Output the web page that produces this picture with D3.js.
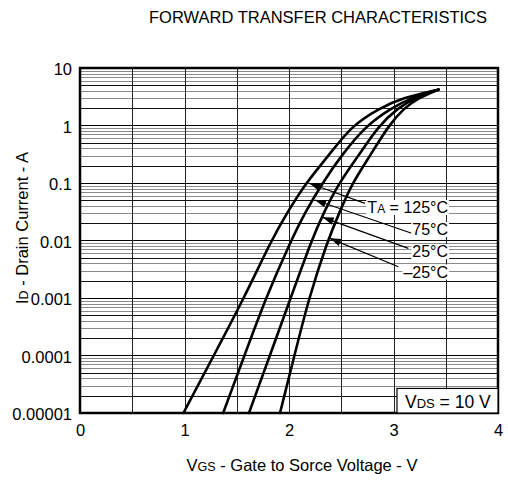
<!DOCTYPE html>
<html><head><meta charset="utf-8">
<script src="https://cdn.jsdelivr.net/npm/d3@7"></script>
<style>
body{margin:0;background:#fff;}
text{font-family:"Liberation Sans",Arial,sans-serif;fill:#000;}
</style></head>
<body><svg id="c" width="508" height="481"></svg>
<script>
// ---- data ----
const currentLevels = [1e-5, 1e-4, 1e-3, 0.01, 0.03, 0.1, 0.3, 1, 2, 3, 4.2];
const vgs125 = [0.99, 1.28, 1.57, 1.83, 1.98, 2.16, 2.38, 2.60, 2.87, 3.08, 3.43];
const vgs75  = [1.37, 1.574, 1.777, 2.02, 2.15, 2.32, 2.50, 2.737, 2.98, 3.16, 3.43];
const vgs25  = [1.617, 1.817, 2.016, 2.215, 2.33, 2.478, 2.665, 2.86, 3.04, 3.20, 3.43];
const vgsM25 = [1.914, 2.052, 2.19, 2.37, 2.48, 2.605, 2.777, 2.953, 3.10, 3.235, 3.43];
const seriesNames = ["125", "75", "25", "–25"];
const xTicks = [0, 1, 2, 3, 4];
const xTickLabels = ["0", "1", "2", "3", "4"];
const yTicks = [1e-5, 1e-4, 1e-3, 1e-2, 1e-1, 1, 10];
const yTickLabels = ["0.00001", "0.0001", "0.001", "0.01", "0.1", "1", "10"];
// annotation anchors in data space: arrow tip [V, A], leader end [V, A], label right/baseline [V, A]
const arrowTips = [[2.194, 0.0988], [2.249, 0.0506], [2.322, 0.0253], [2.392, 0.0109]];
const leaderEnds = [[2.727, 0.0443], [3.174, 0.01334], [3.142, 0.00731], [3.046, 0.0035]];
const labelPos = [[3.522, 0.0301], [3.522, 0.01247], [3.522, 0.00516], [3.522, 0.00227]];

const svg = d3.select("#c");
const L = 80, R = 498, T = 68, B = 413;
const x = d3.scaleLinear().domain([0, 4]).range([L, R]);
const y = d3.scaleLog().domain([1e-5, 10]).range([B, T]);

// title
svg.append("text").attr("x", 318).attr("y", 23).attr("text-anchor", "middle")
  .attr("font-size", 16.5).text("FORWARD TRANSFER CHARACTERISTICS");

// grid
const g = svg.append("g");
const minor = [];
for (let e = -5; e < 1; e++) for (let k = 2; k <= 9; k++) minor.push({v: k * Math.pow(10, e), k});
g.selectAll(".mn").data(minor).enter().append("line")
  .attr("x1", L).attr("x2", R)
  .attr("y1", d => Math.round(y(d.v)) + 0.5).attr("y2", d => Math.round(y(d.v)) + 0.5)
  .attr("stroke", d => (d.k === 2 || d.k === 5) ? "#111" : "#8a8a8a").attr("stroke-width", 1);
g.selectAll(".mj").data(yTicks).enter().append("line")
  .attr("x1", L).attr("x2", R)
  .attr("y1", d => Math.round(y(d)) + 0.5).attr("y2", d => Math.round(y(d)) + 0.5)
  .attr("stroke", "#000").attr("stroke-width", 1.2);
g.selectAll(".vx").data(d3.range(1, 8).map(i => i * 0.5)).enter().append("line")
  .attr("y1", T).attr("y2", B)
  .attr("x1", d => Math.round(x(d)) + 0.5).attr("x2", d => Math.round(x(d)) + 0.5)
  .attr("stroke", "#222").attr("stroke-width", 1);

// axes labels
const ax = d3.axisBottom(x).tickValues(xTicks).tickFormat((d, i) => xTickLabels[i]).tickSize(0).tickPadding(11);
const gx = svg.append("g").attr("transform", `translate(0,${B})`).call(ax);
gx.select(".domain").remove();
gx.selectAll("text").attr("font-size", 16.5).attr("font-family", "Liberation Sans, Arial, sans-serif").attr("fill", "#000");
const ay = d3.axisLeft(y).tickValues(yTicks).tickFormat((d, i) => yTickLabels[i]).tickSize(0).tickPadding(8);
const gy = svg.append("g").attr("transform", `translate(${L},0)`).call(ay);
gy.select(".domain").remove();
gy.selectAll("text").attr("font-size", 16.5).attr("font-family", "Liberation Sans, Arial, sans-serif").attr("fill", "#000").attr("dy", "0.4em");

// curves
const allSeries = [vgs125, vgs75, vgs25, vgsM25];
const line = d3.line().x(d => x(d[0])).y(d => y(d[1])).curve(d3.curveBasis);
svg.append("g").selectAll("path").data(allSeries).enter().append("path")
  .attr("d", s => line(s.map((v, i) => [v, currentLevels[i]])))
  .attr("fill", "none").attr("stroke", "#000").attr("stroke-width", 2.6).attr("stroke-linecap", "round");

// frame
svg.append("rect").attr("x", L).attr("y", T).attr("width", R - L).attr("height", B - T)
  .attr("fill", "none").attr("stroke", "#000").attr("stroke-width", 2.5);

// annotations
const ann = svg.append("g");
seriesNames.forEach((n, i) => {
  const tx = x(arrowTips[i][0]), ty = y(arrowTips[i][1]);
  const ex = x(leaderEnds[i][0]), ey = y(leaderEnds[i][1]);
  ann.append("line").attr("x1", tx).attr("y1", ty).attr("x2", ex).attr("y2", ey)
    .attr("stroke", "#000").attr("stroke-width", 1.2);
  const a = Math.atan2(ey - ty, ex - tx), len = 11, hw = 3.8;
  const bx = tx + len * Math.cos(a), by = ty + len * Math.sin(a);
  const px = -Math.sin(a) * hw, py = Math.cos(a) * hw;
  ann.append("path").attr("d", `M${tx},${ty}L${bx + px},${by + py}L${bx - px},${by - py}Z`).attr("fill", "#000");
});
seriesNames.forEach((n, i) => {
  const lx = x(labelPos[i][0]), ly = y(labelPos[i][1]);
  const bg = ann.append("rect").attr("fill", "#fff");
  const t = ann.append("text").attr("x", lx).attr("y", ly).attr("text-anchor", "end").attr("font-size", 16);
  if (i === 0) {
    t.append("tspan").text("T");
    t.append("tspan").attr("font-size", 12).text("A");
    t.append("tspan").text(" = " + n + "°C");
  } else {
    t.text(n + "°C");
  }
  const bb = t.node().getBBox();
  bg.attr("x", bb.x - 1).attr("y", bb.y + 1).attr("width", bb.width + 2).attr("height", bb.height - 2);
});

// VDS box
const vb = svg.append("g");
const vt = vb.append("text").attr("x", x(3.93)).attr("y", y(1.2e-5)).attr("text-anchor", "end").attr("font-size", 17.5);
vt.append("tspan").text("V");
vt.append("tspan").attr("font-size", 13).text("DS");
vt.append("tspan").text(" = 10 V");
const vbb = vt.node().getBBox();
vb.insert("rect", "text").attr("x", vbb.x - 8).attr("y", vbb.y - 4).attr("width", R - (vbb.x - 8)).attr("height", B - (vbb.y - 4))
  .attr("fill", "#fff").attr("stroke", "#000").attr("stroke-width", 1.2);

// axis titles
const xt = svg.append("text").attr("x", 302).attr("y", 471).attr("text-anchor", "middle").attr("font-size", 16.5);
xt.append("tspan").text("V");
xt.append("tspan").attr("font-size", 12.5).text("GS");
xt.append("tspan").text(" - Gate to Sorce Voltage - V");
const yt = svg.append("text").attr("transform", "translate(28,228) rotate(-90)").attr("text-anchor", "middle").attr("font-size", 16.5);
yt.append("tspan").text("I");
yt.append("tspan").attr("font-size", 12.5).text("D");
yt.append("tspan").text(" - Drain Current - A");
</script></body></html>
